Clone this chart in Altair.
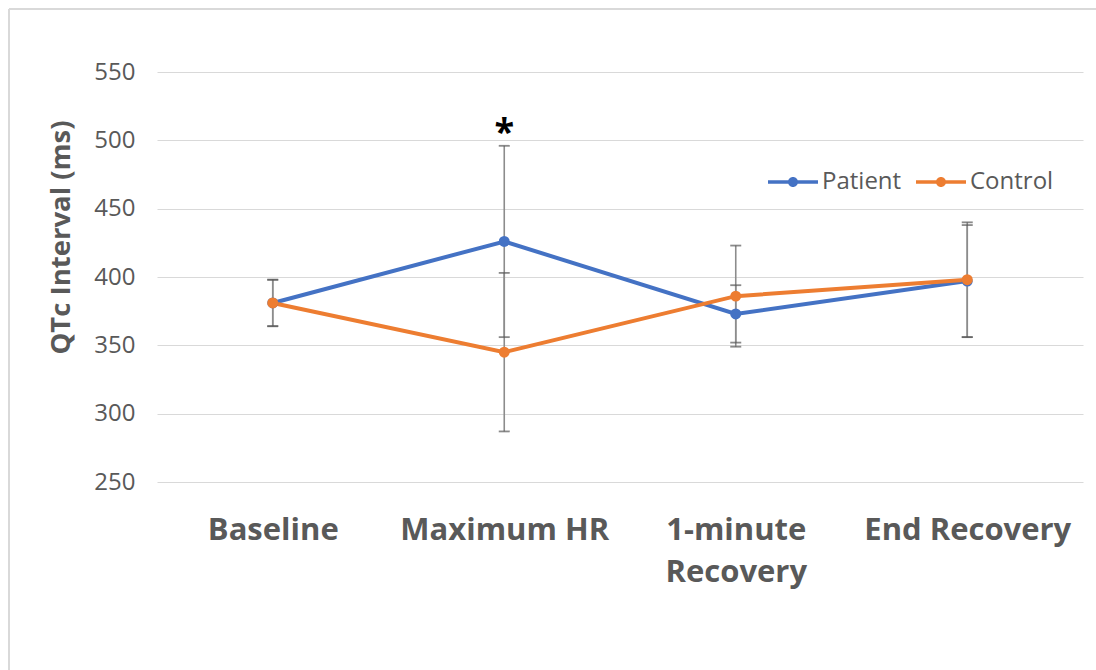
import altair as alt
import pandas as pd

# Exercise-test stages and QTc interval (ms): mean and error-bar half-width
stages = ["Baseline", "Maximum HR", "1-minute Recovery", "End Recovery"]
patient_mean = [381, 426, 373, 397]
patient_err = [17, 70, 21, 41]
control_mean = [381, 345, 386, 398]
control_err = [17, 58, 37, 42]
groups = ["Patient", "Control"]
group_colors = ["#4472C4", "#ED7D31"]

# significance marker placed above the patient error bar at Maximum HR
sig_stage = "Maximum HR"
sig_text = "*"

rows = []
for g, means, errs in (("Patient", patient_mean, patient_err),
                       ("Control", control_mean, control_err)):
    for i, (s, m, e) in enumerate(zip(stages, means, errs)):
        rows.append({"stage": s, "idx": i, "group": g, "qtc": m,
                     "lo": m - e, "hi": m + e})
df = pd.DataFrame(rows)

sig_df = df[(df.group == "Patient") & (df.stage == sig_stage)].assign(label=sig_text)

FONT = "Open Sans"
GRAY = "#595959"

x_enc = alt.X(
    "stage:N",
    sort=stages,
    scale=alt.Scale(type="point", padding=0.5),
    axis=alt.Axis(
        title=None, domain=False, ticks=False, grid=False,
        labelFont=FONT, labelFontSize=31, labelFontWeight="bold",
        labelColor=GRAY, labelPadding=33, labelAngle=0, labelLimit=0,
        labelLineHeight=42,
        labelExpr="datum.label == '1-minute Recovery' ? ['1-minute', 'Recovery'] : datum.label",
    ),
)
y_scale = alt.Scale(domain=[250, 550], nice=False, zero=False)
y_axis = alt.Axis(
    title="QTc Interval (ms)", values=[250, 300, 350, 400, 450, 500, 550],
    domain=False, ticks=False, grid=True, gridColor="#d9d9d9", gridWidth=1.2,
    labelFont=FONT, labelFontSize=24, labelColor=GRAY, labelPadding=22,
    titleFont=FONT, titleFontSize=27.5, titleFontWeight="bold", titleColor=GRAY,
    titleAngle=-90, titleX=-96, titleY=165, titleAlign="center",
    titleBaseline="middle",
)

# legend glyph: a short line segment with a dot in the middle
legend_symbol = (
    "M-1,-0.07L1,-0.07L1,0.07L-1,0.07Z "
    "M-0.2,0A0.2,0.2 0 1,1 0.2,0A0.2,0.2 0 1,1 -0.2,0Z"
)
color_enc = alt.Color(
    "group:N",
    scale=alt.Scale(domain=groups, range=group_colors),
    sort=groups,
    legend=alt.Legend(
        title=None, orient="none", direction="horizontal",
        legendX=611, legendY=85,
        symbolType=legend_symbol, symbolSize=2500, symbolStrokeWidth=0,
        symbolOpacity=1,
        labelFont=FONT, labelFontSize=24, labelColor=GRAY,
        labelOffset=4, columnPadding=14,
    ),
)

base = alt.Chart(df)

bars = base.mark_rule(color="#8c8c8c", strokeWidth=1.6).encode(
    x=x_enc, y=alt.Y("lo:Q", scale=y_scale, axis=y_axis), y2="hi:Q"
)
caps_lo = base.mark_tick(color="#595959", size=11, thickness=1.8).encode(
    x=alt.X("stage:N", sort=stages), y=alt.Y("lo:Q")
)
caps_hi = base.mark_tick(color="#595959", size=11, thickness=1.8).encode(
    x=alt.X("stage:N", sort=stages), y=alt.Y("hi:Q")
)

lines = base.mark_line(strokeWidth=4).encode(
    x=alt.X("stage:N", sort=stages),
    y=alt.Y("qtc:Q"),
    color=color_enc,
    order=alt.Order("idx:Q"),
)

points = base.mark_point(filled=True, size=120, opacity=1).encode(
    x=alt.X("stage:N", sort=stages),
    y=alt.Y("qtc:Q"),
    color=color_enc,
)

star = alt.Chart(sig_df).mark_text(
    font=FONT, fontSize=36, fontWeight="bold", color="#000000",
    baseline="bottom", dy=6,
).encode(x=alt.X("stage:N", sort=stages), y=alt.Y("hi:Q"), text="label:N")

# light frame along the top and left edges of the figure
frame_left = alt.Chart(df).mark_rule(color="#d9d9d9", strokeWidth=2).encode(
    x=alt.value(-148), y=alt.value(-63), y2=alt.value(600)
)
frame_top = alt.Chart(df).mark_rule(color="#d9d9d9", strokeWidth=2).encode(
    x=alt.value(-148), x2=alt.value(945), y=alt.value(-63)
)

chart = alt.layer(
    frame_left, frame_top, bars, caps_lo, caps_hi, lines, points, star
).properties(
    width=926, height=410,
    autosize=alt.AutoSizeParams(type="none"),
    padding={"left": 157, "top": 72, "right": 13, "bottom": 188},
    background="white",
).configure_view(stroke=None)

chart.save("out.html", embed_options={"renderer": "svg", "actions": False})
